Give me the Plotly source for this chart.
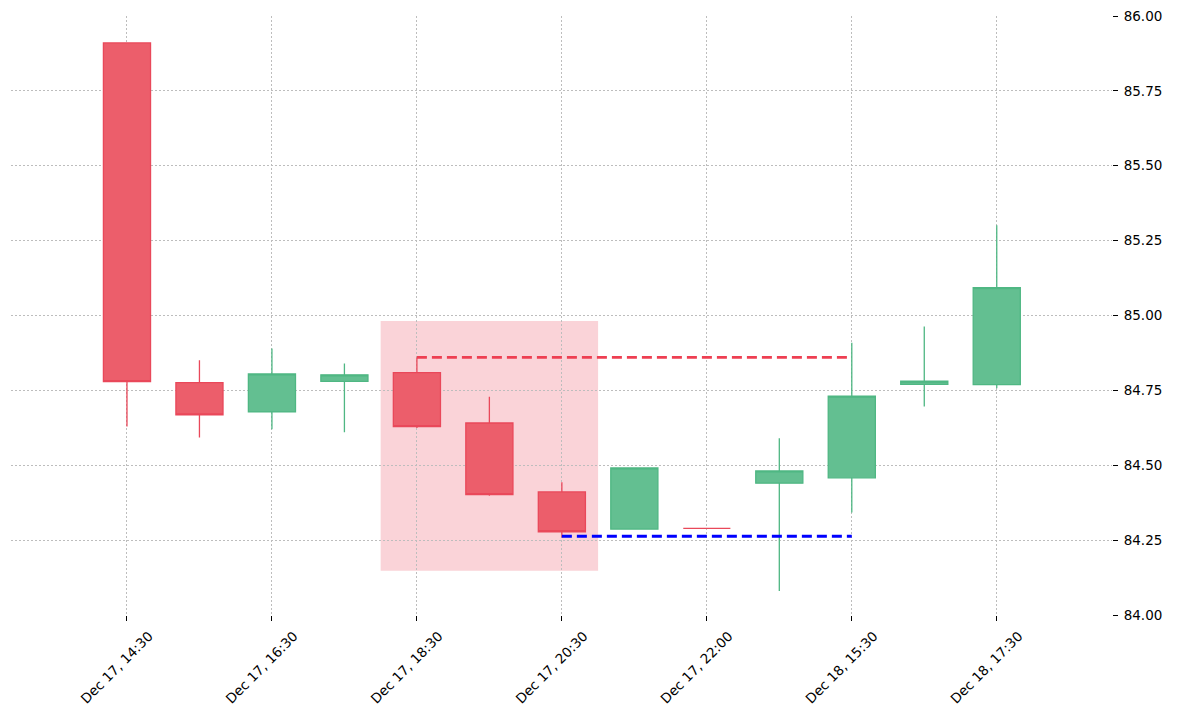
import plotly.graph_objects as go

# ---- data ----
times = ["Dec 17, 14:30", "Dec 17, 15:30", "Dec 17, 16:30", "Dec 17, 17:30",
         "Dec 17, 18:30", "Dec 17, 19:30", "Dec 17, 20:30", "Dec 17, 21:30",
         "Dec 17, 22:00", "Dec 18, 14:30", "Dec 18, 15:30", "Dec 18, 16:30",
         "Dec 18, 17:30"]
opens  = [85.91, 84.776, 84.678, 84.780, 84.809, 84.641, 84.411, 84.287, 84.289, 84.440, 84.458, 84.770, 84.769]
highs  = [85.91, 84.851, 84.890, 84.840, 84.860, 84.729, 84.443, 84.491, 84.289, 84.590, 84.909, 84.963, 85.301]
lows   = [84.629, 84.593, 84.620, 84.610, 84.624, 84.398, 84.259, 84.287, 84.289, 84.080, 84.342, 84.696, 84.757]
closes = [84.779, 84.668, 84.805, 84.802, 84.629, 84.402, 84.278, 84.491, 84.289, 84.481, 84.731, 84.781, 85.093]

# pattern zone (candle index range and price range)
zone_start, zone_end = 4, 6
zone_low, zone_high = 84.148, 84.982
# levels: (price, start index, end index)
resistance = (84.860, 4, 10)
support = (84.263, 6, 10)

y_ticks = [84.00, 84.25, 84.50, 84.75, 85.00, 85.25, 85.50, 85.75, 86.00]

idx = list(range(len(times)))

RED_FILL = "#ec5e6b"
RED_LINE = "#e9485a"
GREEN_FILL = "#63bf91"
GREEN_LINE = "#4fb783"

fig = go.Figure()

fig.add_shape(type="rect", xref="x", yref="y",
              x0=zone_start - 0.5, x1=zone_end + 0.5, y0=zone_low, y1=zone_high,
              fillcolor="rgba(232,56,79,0.22)", line=dict(width=0), layer="below")

fig.add_trace(go.Candlestick(
    x=idx, open=opens, high=highs, low=lows, close=closes,
    increasing=dict(fillcolor=GREEN_FILL, line=dict(color=GREEN_LINE, width=1.3)),
    decreasing=dict(fillcolor=RED_FILL, line=dict(color=RED_LINE, width=1.3)),
    whiskerwidth=0, showlegend=False, hoverinfo="skip"))

fig.add_trace(go.Scatter(
    x=[resistance[1], resistance[2]], y=[resistance[0], resistance[0]],
    mode="lines", line=dict(color="#ee3f52", width=2.8, dash="10px,5px"),
    showlegend=False, hoverinfo="skip"))
fig.add_trace(go.Scatter(
    x=[support[1], support[2]], y=[support[0], support[0]],
    mode="lines", line=dict(color="#0000ff", width=2.8, dash="10px,5px"),
    showlegend=False, hoverinfo="skip"))

# the page body adds an 8px offset, so the figure is sized to fit the window
fig.update_layout(
    width=1171, height=709,
    margin=dict(l=3, r=67, t=8, b=102, autoexpand=False),
    paper_bgcolor="white", plot_bgcolor="white",
    boxgap=0.35, boxgroupgap=0,
    font=dict(family="DejaVu Sans", color="black"),
    showlegend=False,
)

fig.update_xaxes(
    range=[-1.6, 13.59], automargin=False,
    tickmode="array", tickvals=idx[::2], ticktext=times[::2],
    tickangle=-45, ticklabelshift=22, ticklabelstandoff=2,
    tickfont=dict(size=13.5, family="DejaVu Sans"),
    ticks="outside", ticklen=5, tickcolor="black", tickwidth=1,
    ticklabeloverflow="allow",
    showgrid=True, gridcolor="#bdbdbd", gridwidth=0.8, griddash="2px,2px",
    showline=False, zeroline=False, rangeslider=dict(visible=False),
)
fig.update_yaxes(
    range=[84.0, 86.0], side="right", automargin=False,
    tickmode="array", tickvals=y_ticks, ticktext=[f"{v:.2f}" for v in y_ticks],
    tickfont=dict(size=13.5, family="DejaVu Sans"),
    ticks="outside", ticklen=5, tickcolor="black", tickwidth=1, ticklabelstandoff=3,
    ticklabeloverflow="allow",
    showgrid=True, gridcolor="#bdbdbd", gridwidth=0.8, griddash="2px,2px",
    showline=False, zeroline=False,
)

fig.write_html("out.html")
